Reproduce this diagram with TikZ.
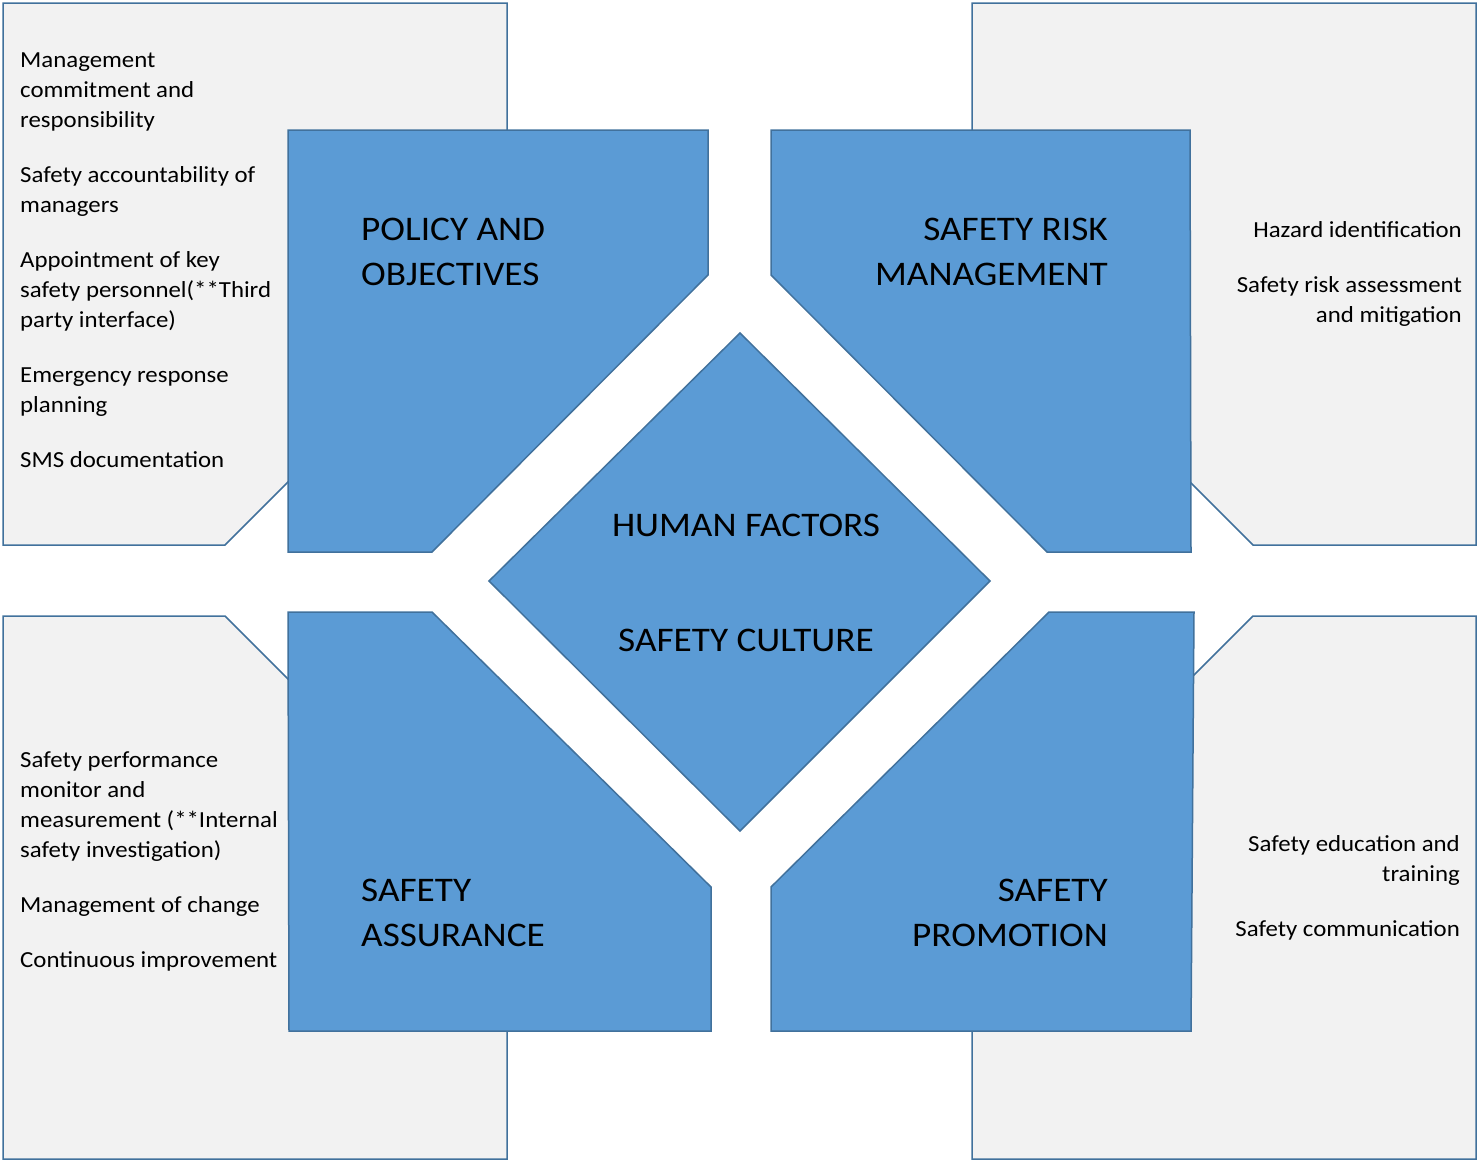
\documentclass[tikz,border=0pt]{standalone}
\usepackage{fontspec}
\setmainfont{Carlito}[FakeStretch=1.08]
\definecolor{bluefill}{HTML}{5B9BD5}
\definecolor{blueline}{HTML}{41719C}
\definecolor{grayfill}{HTML}{F2F2F2}
\begin{document}
\begin{tikzpicture}[x=1pt,y=-1pt,
  graybox/.style={fill=grayfill,draw=blueline,line width=1.5pt},
  bluebox/.style={fill=bluefill,draw=blueline,line width=1.5pt},
  small/.style={font=\fontsize{23}{30}\selectfont,inner sep=0pt},
  big/.style={font=\fontsize{34.5}{45}\selectfont,inner sep=0pt},
  smallL/.style={small,anchor=base west,align=left},
  smallR/.style={small,anchor=base east,align=right},
  bigL/.style={big,anchor=base west,align=left},
  bigR/.style={big,anchor=base east,align=right},
  bigC/.style={big,anchor=base,align=center}]
\useasboundingbox (0,0) rectangle (1484,1162);
% gray boxes
\path[graybox] (3,3) -- (507,3) -- (507,263) -- (225,545) -- (3,545) -- cycle;
\path[graybox] (972,3) -- (1476,3) -- (1476,545) -- (1253,545) -- (972,264) -- cycle;
\path[graybox] (3,616) -- (225,616) -- (507,898) -- (507,1159) -- (3,1159) -- cycle;
\path[graybox] (1253,616) -- (1476,616) -- (1476,1159) -- (972,1159) -- (972,897) -- cycle;
% blue boxes
\path[bluebox] (288,130) -- (708,130) -- (708,275) -- (432,552) -- (288,552) -- cycle;
\path[bluebox] (771,130) -- (1190,130) -- (1191,552) -- (1047,552) -- (771,275) -- cycle;
\path[bluebox] (288,612) -- (432,612) -- (711,887) -- (711,1031) -- (289,1031) -- cycle;
\path[bluebox] (1049,612) -- (1194,612) -- (1191,1031) -- (771,1031) -- (771,887) -- cycle;
\path[bluebox] (740,333) -- (990,581) -- (740,831) -- (489,581) -- cycle;
% big labels (anchor = baseline of last line)
\node[bigL] (po) at (361,285) {POLICY AND\\OBJECTIVES};
\node[bigR] (srm) at (1108,285) {SAFETY RISK\\MANAGEMENT};
\node[bigC] (hf) at (746,536) {HUMAN FACTORS};
\node[bigC] (sc) at (746,651) {SAFETY CULTURE};
\node[bigL] (sa) at (361,946) {SAFETY\\ASSURANCE};
\node[bigR] (sp) at (1108,946) {SAFETY\\PROMOTION};
% top-left list
\node[smallL] (tl1) at (20,127) {Management\\commitment and\\responsibility};
\node[smallL] (tl2) at (20,212) {Safety accountability of\\managers};
\node[smallL] (tl3) at (20,327) {Appointment of key\\safety personnel(**Third\\party interface)};
\node[smallL] (tl4) at (20,412) {Emergency response\\planning};
\node[smallL] (tl5) at (20,467) {SMS documentation};
% top-right list
\node[smallR] (tr1) at (1462,237) {Hazard identification};
\node[smallR] (tr2) at (1462,322) {Safety risk assessment\\and mitigation};
% bottom-left list
\node[smallL] (bl1) at (20,857) {Safety performance\\monitor and\\measurement (**Internal\\safety investigation)};
\node[smallL] (bl2) at (20,912) {Management of change};
\node[smallL] (bl3) at (20,967) {Continuous improvement};
% bottom-right list
\node[smallR] (br1) at (1460,881) {Safety education and\\training};
\node[smallR] (br2) at (1460,936) {Safety communication};
\end{tikzpicture}
\end{document}
